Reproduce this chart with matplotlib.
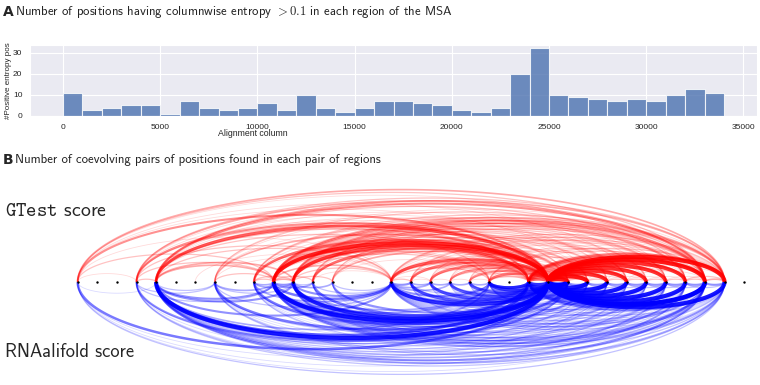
import numpy as np
import matplotlib
matplotlib.use('Agg')
import matplotlib.pyplot as plt
import seaborn as sns

# panel A: number of positive-entropy positions per 1000-column region
bin_width = 1000
entropy_counts = [11, 3, 4, 5, 5, 1, 7, 4, 3, 4, 6, 3, 10, 4, 2, 4, 7,
                  7, 6, 5, 3, 2, 4, 20, 32, 10, 9, 8, 7, 8, 7, 10, 13, 11]
x_ticks = [0, 5000, 10000, 15000, 20000, 25000, 30000, 35000]
y_ticks = [0, 10, 20, 30]

# panel B: regions are nodes, pairs are (region_i, region_j, strength 1-10)
n_regions = 35
gtest_pairs = [
    # into the hub regions 23/24 from the left
    (0, 24, 4), (3, 24, 4), (4, 24, 6), (7, 24, 3), (9, 24, 5), (10, 24, 8),
    (11, 24, 7), (12, 24, 5), (13, 24, 3), (16, 24, 6), (17, 24, 5), (18, 24, 5),
    (19, 24, 4), (20, 24, 4), (21, 24, 5), (23, 24, 6),
    (3, 23, 2), (4, 23, 3), (9, 23, 2), (10, 23, 5), (11, 23, 4), (12, 23, 2),
    (16, 23, 3), (17, 23, 2), (18, 23, 2), (19, 23, 2), (20, 23, 2), (21, 23, 3),
    # hub to the right
    (24, 25, 9), (24, 26, 9), (24, 27, 8), (24, 28, 8), (24, 29, 8), (24, 30, 8),
    (24, 31, 8), (24, 32, 9), (24, 33, 9),
    (23, 25, 5), (23, 26, 4), (23, 27, 4), (23, 28, 4), (23, 29, 3), (23, 30, 3),
    (23, 31, 4), (23, 32, 5), (23, 33, 5),
    # right side
    (25, 26, 2), (26, 27, 2), (27, 28, 2), (28, 29, 2), (29, 30, 2), (30, 31, 2),
    (31, 32, 2), (32, 33, 3), (25, 27, 1), (26, 28, 1), (27, 29, 1), (28, 30, 1),
    (29, 31, 1), (30, 32, 1), (31, 33, 2), (25, 29, 1), (28, 32, 1), (26, 31, 1),
    (25, 33, 1), (27, 33, 1),
    # long range, left to right
    (0, 33, 3), (0, 32, 2), (0, 31, 1), (0, 28, 1), (0, 26, 1),
    (3, 33, 2), (3, 32, 3), (3, 30, 1), (3, 27, 1), (3, 25, 1),
    (4, 33, 3), (4, 32, 4), (4, 31, 2), (4, 29, 1), (4, 27, 1), (4, 25, 2),
    (7, 33, 1), (7, 32, 2), (7, 30, 1), (7, 26, 1),
    (9, 33, 2), (9, 32, 2), (9, 31, 1), (9, 28, 1), (9, 25, 1),
    (10, 33, 3), (10, 32, 4), (10, 31, 3), (10, 30, 2), (10, 29, 2), (10, 28, 2),
    (10, 27, 2), (10, 26, 2), (10, 25, 3),
    (11, 33, 3), (11, 32, 3), (11, 31, 2), (11, 30, 2), (11, 29, 1), (11, 28, 2),
    (11, 27, 1), (11, 26, 2), (11, 25, 2),
    (12, 33, 2), (12, 32, 2), (12, 30, 1), (12, 28, 1), (12, 25, 1),
    (13, 33, 1), (13, 32, 2), (13, 29, 1), (13, 26, 1),
    (16, 33, 2), (16, 32, 2), (16, 31, 1), (16, 30, 1), (16, 28, 1), (16, 26, 1), (16, 25, 2),
    (17, 33, 1), (17, 32, 2), (17, 30, 1), (17, 27, 1), (17, 25, 1),
    (18, 33, 1), (18, 32, 1), (18, 29, 1), (18, 26, 1),
    (19, 33, 1), (19, 31, 1), (19, 28, 1), (19, 25, 1),
    (20, 33, 1), (20, 32, 1), (20, 29, 1), (20, 26, 1),
    (21, 33, 2), (21, 32, 2), (21, 30, 1), (21, 27, 1), (21, 25, 1),
    # left side
    (0, 3, 1), (3, 4, 2), (3, 10, 2), (4, 10, 3), (4, 11, 3), (4, 16, 2), (7, 10, 2),
    (9, 10, 2), (9, 11, 2), (10, 11, 3), (10, 12, 2), (10, 16, 3), (11, 16, 2),
    (11, 13, 2), (12, 16, 1), (16, 17, 2), (16, 18, 1), (17, 18, 1), (18, 19, 1),
    (19, 20, 1), (20, 21, 1), (16, 21, 2), (13, 21, 1), (0, 10, 2), (0, 16, 1),
    (6, 16, 1), (3, 16, 2), (4, 21, 2), (10, 21, 2), (11, 21, 2), (9, 21, 1), (7, 16, 1),
]
rnaalifold_pairs = [
    (0, 24, 5), (3, 24, 4), (4, 24, 9), (7, 24, 5), (9, 24, 5), (10, 24, 9),
    (11, 24, 8), (12, 24, 5), (13, 24, 4), (16, 24, 8), (17, 24, 6), (18, 24, 6),
    (19, 24, 6), (20, 24, 6), (21, 24, 7), (23, 24, 8),
    (4, 23, 6), (10, 23, 6), (11, 23, 5), (16, 23, 4), (17, 23, 3), (18, 23, 3),
    (19, 23, 3), (20, 23, 3), (21, 23, 6),
    (24, 25, 10), (24, 26, 9), (24, 27, 9), (24, 28, 9), (24, 29, 9), (24, 30, 9),
    (24, 31, 9), (24, 32, 10), (24, 33, 9),
    (23, 25, 5), (23, 26, 5), (23, 27, 4), (23, 28, 4), (23, 29, 4), (23, 30, 4),
    (23, 31, 4), (23, 32, 5), (23, 33, 4),
    (25, 26, 4), (26, 27, 4), (27, 28, 4), (28, 29, 4), (29, 30, 4), (30, 31, 4),
    (31, 32, 4), (32, 33, 4), (25, 27, 2), (26, 28, 2), (27, 29, 2), (28, 30, 2),
    (29, 31, 2), (30, 32, 2), (31, 33, 2),
    (0, 33, 2), (0, 32, 1), (0, 30, 1), (0, 27, 1),
    (3, 33, 2), (3, 32, 2), (3, 31, 1), (3, 28, 1), (3, 25, 2),
    (4, 33, 3), (4, 32, 4), (4, 31, 3), (4, 30, 3), (4, 29, 2), (4, 28, 2),
    (4, 27, 2), (4, 26, 2), (4, 25, 4),
    (7, 33, 2), (7, 32, 2), (7, 31, 1), (7, 29, 1), (7, 27, 1), (7, 25, 2),
    (9, 33, 1), (9, 32, 2), (9, 30, 1), (9, 28, 1), (9, 26, 1), (9, 25, 2),
    (10, 33, 3), (10, 32, 4), (10, 31, 3), (10, 30, 2), (10, 29, 2), (10, 28, 2),
    (10, 27, 2), (10, 26, 3), (10, 25, 4),
    (11, 33, 2), (11, 32, 3), (11, 31, 2), (11, 30, 2), (11, 29, 2), (11, 28, 1),
    (11, 27, 2), (11, 26, 2), (11, 25, 3),
    (12, 33, 1), (12, 32, 2), (12, 30, 1), (12, 28, 1), (12, 25, 1),
    (13, 33, 1), (13, 31, 1), (13, 29, 1), (13, 27, 1), (13, 25, 1),
    (16, 33, 2), (16, 32, 3), (16, 31, 2), (16, 30, 2), (16, 29, 2), (16, 28, 2),
    (16, 27, 2), (16, 26, 2), (16, 25, 3),
    (17, 33, 1), (17, 32, 2), (17, 30, 1), (17, 28, 1), (17, 26, 1), (17, 25, 2),
    (18, 33, 1), (18, 32, 1), (18, 30, 1), (18, 28, 1), (18, 25, 2),
    (19, 33, 1), (19, 31, 1), (19, 29, 1), (19, 27, 1), (19, 25, 1),
    (20, 33, 1), (20, 32, 1), (20, 30, 1), (20, 28, 1), (20, 26, 1),
    (21, 33, 2), (21, 32, 2), (21, 31, 2), (21, 30, 1), (21, 29, 2), (21, 28, 1),
    (21, 27, 2), (21, 26, 2), (21, 25, 3),
    (0, 4, 1), (3, 7, 2), (3, 10, 2), (4, 7, 2), (4, 10, 4), (4, 11, 4), (4, 16, 4),
    (4, 21, 3), (7, 10, 3), (7, 11, 2), (7, 16, 2), (9, 10, 3), (9, 11, 3), (9, 16, 3),
    (10, 11, 4), (10, 12, 3), (10, 16, 5), (10, 21, 3), (11, 16, 4), (11, 12, 2),
    (11, 13, 3), (11, 21, 3), (12, 16, 2), (13, 16, 2), (16, 17, 4), (16, 18, 3),
    (16, 19, 3), (16, 21, 4), (17, 18, 3), (18, 19, 3), (19, 20, 3), (20, 21, 3),
    (17, 21, 2), (21, 23, 6),
]

ARC_K = 5.6  # arc height (px) per unit of half-span

sns.set_style('darkgrid')
plt.rcParams['font.family'] = ['Liberation Sans', 'DejaVu Sans']
plt.rcParams['mathtext.fontset'] = 'cm'

W, H = 760, 385
fig = plt.figure(figsize=(W / 100, H / 100), dpi=100)


def px_box(x0, y0, x1, y1):
    return [x0 / W, 1 - y1 / H, (x1 - x0) / W, (y1 - y0) / H]


# ---- panel A
ax1 = fig.add_axes(px_box(30, 45, 757, 116))
bin_left = np.arange(len(entropy_counts)) * bin_width
ax1.bar(bin_left, entropy_counts, width=bin_width, align='edge',
        color='#4C72B0', alpha=0.8, edgecolor='white', linewidth=0.8)
ax1.set_xlim(-1700, 35700)
ax1.set_ylim(0, 33.6)
ax1.set_xticks(x_ticks)
ax1.set_yticks(y_ticks)
ax1.tick_params(labelsize=6, pad=2, colors='#262626')
ax1.set_xlabel('Alignment column', fontsize=6.3, color='#262626')
ax1.set_ylabel('#Positive entropy pos', fontsize=5.8, color='#262626')
ax1.xaxis.set_label_coords(0.307, -0.19)
ax1.yaxis.set_label_coords(-0.025, 0.5)

fig.text(3 / W, 1 - 12 / H, 'A', fontsize=10, fontweight='bold',
         family='DejaVu Sans', va='center')
fig.text(15 / W, 1 - 12 / H,
         r'Number of positions having columnwise entropy $>0.1$ in each region of the MSA',
         fontsize=9.2, family='cmss10', va='center')

# ---- panel B
fig.text(3 / W, 1 - 160 / H, 'B', fontsize=10, fontweight='bold',
         family='DejaVu Sans', va='center')
fig.text(15 / W, 1 - 160 / H,
         'Number of coevolving pairs of positions found in each pair of regions',
         fontsize=9.2, family='cmss10', va='center')
fig.text(5 / W, 1 - 211 / H, r'$\mathtt{GTest}$ score', fontsize=14.3,
         family='cmss10', va='center')
fig.text(5 / W, 1 - 352 / H, 'RNAalifold score', fontsize=13.3,
         family='cmss10', va='center')

ax2 = fig.add_axes(px_box(0, 180, 760, 385))
ax2.set_facecolor('none')
ax2.axis('off')
x0_px, step_px, base_px = 77.7, 19.6, 282
ax2.set_xlim(-x0_px / step_px, (W - x0_px) / step_px)
ax2.set_ylim(-(385 - base_px), base_px - 180)


def draw_arcs(ax, pairs, color, sign):
    t = np.linspace(0, np.pi, 120)
    for i, j, w in sorted(pairs, key=lambda p: p[2]):
        c = (i + j) / 2
        a = (j - i) / 2
        ax.plot(c + a * np.cos(t), sign * ARC_K * a * np.sin(t), color=color,
                lw=0.3 + 0.3 * w, alpha=min(1.0, 0.05 + 0.095 * w),
                solid_capstyle='butt')


draw_arcs(ax2, gtest_pairs, 'red', 1)
draw_arcs(ax2, rnaalifold_pairs, 'blue', -1)
nodes = np.arange(n_regions)
ax2.scatter(nodes, np.zeros(n_regions), s=3, c='black', zorder=10, linewidths=0)

fig.savefig('out.png', dpi=100)
